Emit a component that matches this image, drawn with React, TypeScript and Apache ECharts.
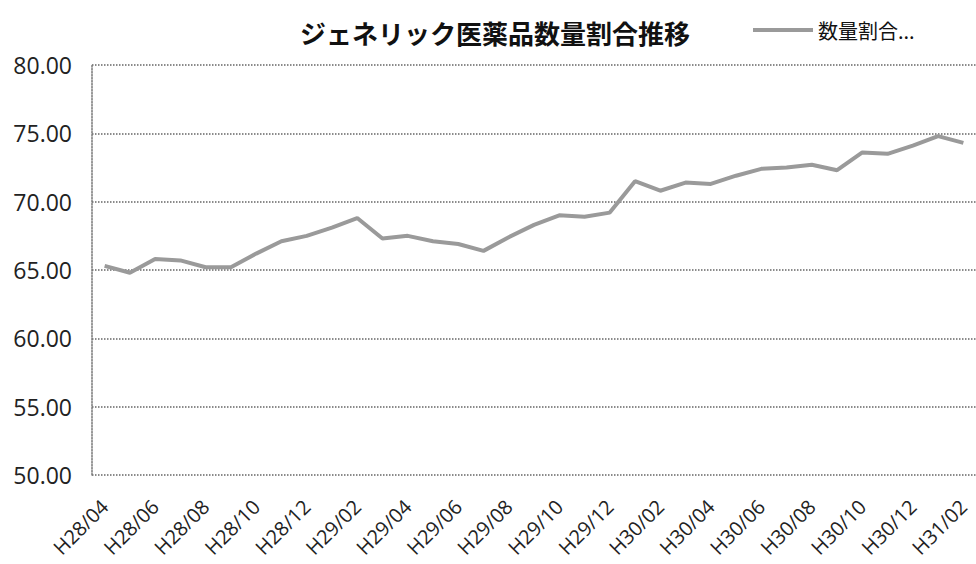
import React, { useEffect, useRef } from "react";
import * as echarts from "echarts";

const categories = [
  "H28/04", "H28/05", "H28/06", "H28/07", "H28/08", "H28/09", "H28/10", "H28/11", "H28/12",
  "H29/01", "H29/02", "H29/03", "H29/04", "H29/05", "H29/06", "H29/07", "H29/08", "H29/09",
  "H29/10", "H29/11", "H29/12", "H30/01", "H30/02", "H30/03", "H30/04", "H30/05", "H30/06",
  "H30/07", "H30/08", "H30/09", "H30/10", "H30/11", "H30/12", "H31/01", "H31/02",
];

const shareValues = [
  65.3, 64.8, 65.8, 65.7, 65.2, 65.2, 66.2, 67.1, 67.5,
  68.1, 68.8, 67.3, 67.5, 67.1, 66.9, 66.4, 67.4, 68.3,
  69.0, 68.9, 69.2, 71.5, 70.8, 71.4, 71.3, 71.9, 72.4,
  72.5, 72.7, 72.3, 73.6, 73.5, 74.1, 74.8, 74.3,
];

const seriesName = "数量割合...";
const titleText = "ジェネリック医薬品数量割合推移";

export default function App() {
  const ref = useRef<HTMLDivElement>(null);
  useEffect(() => {
    document.body.style.margin = "0";
    if (!ref.current) return;
    const chart = echarts.init(ref.current, null, { renderer: "svg" });
    chart.setOption({
      animation: false,
      backgroundColor: "#ffffff",
      title: {
        text: titleText,
        left: 490,
        top: 14,
        textAlign: "center",
        textStyle: {
          fontFamily: "Noto Sans CJK JP",
          fontSize: 26,
          fontWeight: "bold",
          color: "#111",
        },
      },
      legend: {
        data: [{ name: seriesName, icon: "rect" }],
        left: 748,
        top: 15,
        itemWidth: 60,
        itemHeight: 4,
        itemGap: 6,
        textStyle: {
          fontFamily: "Noto Sans CJK JP",
          fontSize: 20,
          color: "#111",
        },
      },
      grid: {
        left: 92,
        top: 65,
        width: 886,
        bottom: 89,
        containLabel: false,
      },
      xAxis: {
        type: "category",
        data: categories,
        boundaryGap: true,
        axisLine: { show: false },
        axisTick: { show: false },
        axisLabel: {
          interval: 1,
          rotate: 45,
          margin: 28,
          fontFamily: "Open Sans",
          fontSize: 20,
          color: "#222",
        },
        splitLine: { show: false },
      },
      yAxis: {
        type: "value",
        min: 50,
        max: 80,
        interval: 5,
        axisLine: {
          show: true,
          lineStyle: { color: "#777", type: "dotted", width: 1.5 },
        },
        axisTick: { show: false },
        axisLabel: {
          formatter: (v: number) => v.toFixed(2),
          margin: 20,
          fontFamily: "Open Sans",
          fontSize: 23,
          color: "#222",
        },
        splitLine: {
          show: true,
          lineStyle: { color: "#666", type: "dotted", width: 1.5 },
        },
      },
      series: [
        {
          name: seriesName,
          type: "line",
          data: shareValues,
          symbol: "none",
          lineStyle: { color: "#9a9a9a", width: 4 },
          itemStyle: { color: "#9a9a9a" },
        },
      ],
    });
    return () => chart.dispose();
  }, []);
  return <div ref={ref} style={{ width: 976, height: 564 }} />;
}
